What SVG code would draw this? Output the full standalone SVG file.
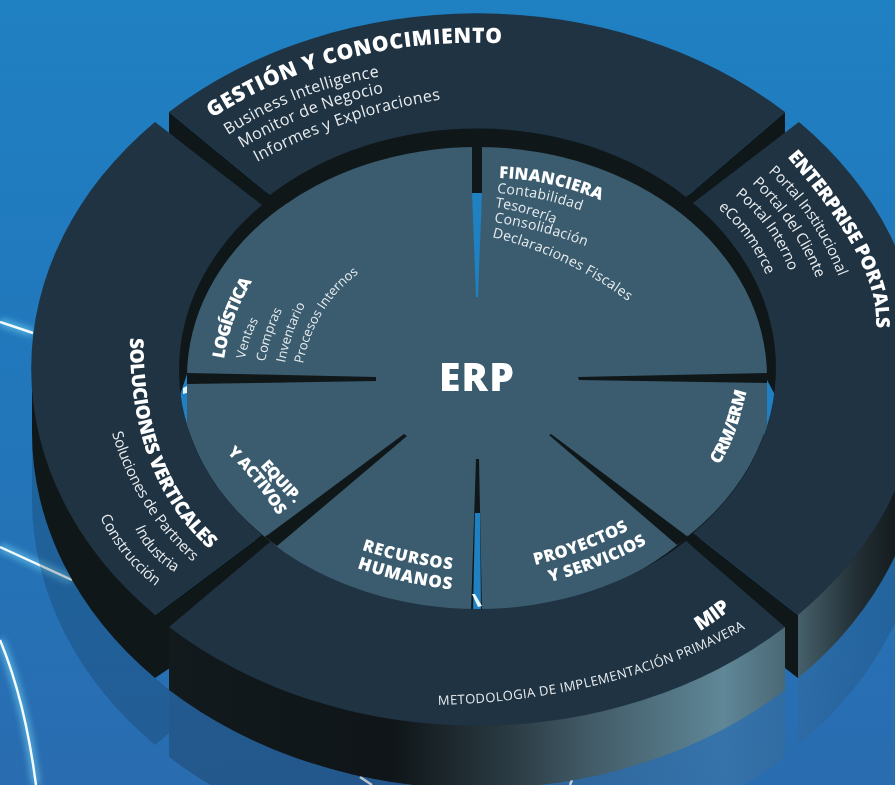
<svg xmlns="http://www.w3.org/2000/svg" width="895" height="785" viewBox="0 0 895 785">
<style>
.top{fill:#1f3342}
.wall{fill:#101719}
.disc{fill:#3a5c6e}
.t{font-family:"Open Sans","Noto Sans",sans-serif;fill:#fff;font-weight:800}
.s{font-family:"Open Sans","Noto Sans",sans-serif;fill:#e8ecef;font-weight:400}
.line{fill:none;stroke:#f4fbff;stroke-width:2.4}
.glow{fill:none;stroke:#6fd0f5;stroke-width:8;opacity:.6}
</style>
<defs>
<linearGradient id="bg" x1="0" y1="0" x2="0" y2="1"><stop offset="0" stop-color="#1f80c2"/><stop offset=".55" stop-color="#2276ba"/><stop offset="1" stop-color="#2a6cb0"/></linearGradient>
<linearGradient id="mipW" gradientUnits="userSpaceOnUse" x1="169" y1="0" x2="785" y2="0"><stop offset="0" stop-color="#121a1d"/><stop offset=".36" stop-color="#0f1518"/><stop offset=".55" stop-color="#2a3a42"/><stop offset=".68" stop-color="#415a66"/><stop offset=".9" stop-color="#5f8797"/><stop offset="1" stop-color="#4b6875"/></linearGradient>
<linearGradient id="entW" gradientUnits="userSpaceOnUse" x1="798" y1="0" x2="895" y2="0"><stop offset="0" stop-color="#46606b"/><stop offset=".6" stop-color="#222f35"/><stop offset="1" stop-color="#151c1f"/></linearGradient>
<filter id="blur" x="-20%" y="-20%" width="140%" height="140%"><feGaussianBlur stdDeviation="3"/></filter>
<path id="p1" d="M212 118Q338 38 493 43L555 45"/>
<path id="p2" d="M228 135Q298 90 377 77L409 72"/>
<path id="p3" d="M242 148Q310 108 382 93L411 87"/>
<path id="p4" d="M257 162Q345 115 438 100L475 94"/>
<path id="p5" d="M787 157Q875 257 876 318L877 348"/>
<path id="p6" d="M768 172Q813 212 838 275L848 300"/>
<path id="p7" d="M752 183Q792 221 815 275L824 297"/>
<path id="p8" d="M735 195Q771 224 788 268L795 286"/>
<path id="p9" d="M718 208Q746 232 763 268L770 282"/>
<path id="p10" d="M499 178Q555 180 605 202L625 211"/>
<path id="p11" d="M497 193Q542 196 585 212L602 218"/>
<path id="p12" d="M495 207Q522 211 550 222L561 226"/>
<path id="p13" d="M494 222Q545 230 590 248L608 255"/>
<path id="p14" d="M492 237Q570 256 633 305L658 325"/>
<path id="p15" d="M224 359Q230 320 250 285L258 271"/>
<path id="p16" d="M245 359Q248 340 256 325L262 314"/>
<path id="p17" d="M265 362Q270 335 280 315L285 305"/>
<path id="p18" d="M285 363Q291 333 304 307L309 297"/>
<path id="p19" d="M303 364Q315 305 359 273L377 260"/>
<path id="p20" d="M260 466Q276 484 294 503L302 511"/>
<path id="p21" d="M227 453Q256 480 278 516L286 530"/>
<path id="p22" d="M362 550Q405 564 456 570L476 572"/>
<path id="p23" d="M357 568Q404 584 455 590L475 592"/>
<path id="p24" d="M535 565Q588 552 632 528L650 518"/>
<path id="p25" d="M550 582Q604 568 648 543L666 533"/>
<path id="p26" d="M719 465Q735 440 743 405L747 390"/>
<path id="p27" d="M130 338Q129 473 205 545L235 574"/>
<path id="p28" d="M112 433Q134 509 193 562L217 583"/>
<path id="p29" d="M135 528Q148 558 177 573L189 579"/>
<path id="p30" d="M100 517Q120 560 157 587L172 598"/>
<path id="p31" d="M700 631Q715 622 729 611L741 602"/>
<path id="p32" d="M438 705Q617 700 748 627L800 598"/>
</defs>
<rect width="895" height="785" fill="url(#bg)"/>
<g id="background-streaks">
<g filter="url(#blur)"><path class="glow" d="M0 322L33 333"/><path class="glow" d="M0 547L72 580"/><path class="glow" d="M0 640Q25 700 36 785"/></g>
<path class="line" d="M0 322L33 333"/><path class="line" d="M0 547L72 580"/><path class="line" d="M0 640Q25 700 36 785"/><path class="line" d="M360 777L372 785"/><path class="line" d="M572 780L570 785"/>
</g>
<g id="reflections">
<path opacity=".24" fill="#12283f" d="M32 432L32 498A446 356.5 0 0 0 155 745L169 733L169 690L155 678L32 432Z"/>
<path opacity=".24" fill="url(#mipW)" d="M169 690L169 757A446 356.5 0 0 0 785 757L785 690A446 356.5 0 0 1 169 690Z"/>
<path opacity=".16" fill="url(#entW)" d="M785 668L798 678L798 745A446 356.5 0 0 0 924 498L924 432A446 356.5 0 0 1 798 678L785 668Z"/>
</g>
<g id="walls">
<path class="wall" d="M32 369L32 432A446 356.5 0 0 0 155 678L270 600L262 535L155 615Z"/>
<path fill="url(#entW)" d="M798 615L798 678A446 356.5 0 0 0 924 432L924 369Z"/>
<path class="wall" d="M693 533L798 615L798 678L785 668L686 600Z"/>
<path fill="url(#mipW)" d="M169 627L169 690A446 356.5 0 0 0 785 690L785 627Z"/>
<path class="wall" d="M169 112L270 195L270 216L169 133Z"/>
<path class="wall" d="M785 112L785 133L693 207L686 197Z"/>
<path class="wall" d="M255 528H280V562H255Z"/>
<path class="wall" d="M675 528H700V562H675Z"/>
</g>
<ellipse id="inner-wall" class="wall" cx="476.5" cy="368.5" rx="303" ry="243"/>
<path id="sliver-left" fill="#1f80c2" d="M187 374L180 395L183 412L189 432L195 425L195 374Z"/>
<path id="sliver-right" fill="#1f80c2" d="M766 378L775 395L772 420L764 436L760 420L760 378Z"/>
<path fill="#dff4fb" d="M183 388L187 386L187 393L183 394Z"/>
<ellipse id="disc" class="disc" cx="477" cy="377" rx="290" ry="230"/>
<path class="disc" d="M187 384L187 425A297 237 0 0 0 265 537L300 500Z"/>
<path class="disc" d="M767 384L767 425A297 237 0 0 1 688 536L650 500Z"/>
<path class="disc" d="M265 537A285 230 0 0 0 688 536L477 400Z"/>
<g id="dividers">
<path class="wall" d="M472 147L482 147L482 194L472 194Z"/>
<path fill="#1f80c2" d="M472 193L482 193L478 297L476 297Z"/>
<path class="wall" d="M187 373L187 384L376 381L376 377Z"/>
<path class="wall" d="M767 373L767 383L579 380L578 377Z"/>
<path class="wall" d="M404 434L407 436L277 546L265 537Z"/>
<path class="wall" d="M549 435L551 434L688 537L677 545Z"/>
<path class="wall" d="M476 459L479 459L482 612L471 612Z"/>
<path fill="#1f80c2" d="M475 513L480 513L481 612L473 612Z"/>
<path fill="#e8f7fc" d="M472 594L475 594L482 606L478 607Z"/>
</g>
<g id="node-gestion"><path class="top" d="M169 112A446 356.5 0 0 1 785 112L686 197A298.5 238.5 0 0 0 270 195Z"/>
<text class="t" font-size="21" letter-spacing=".7"><textPath href="#p1">GESTIÓN Y CONOCIMIENTO</textPath></text>
<text class="s" font-size="16" letter-spacing=".4"><textPath href="#p2">Business Intelligence</textPath></text>
<text class="s" font-size="16" letter-spacing=".3"><textPath href="#p3">Monitor de Negocio</textPath></text>
<text class="s" font-size="16" letter-spacing=".3"><textPath href="#p4">Informes y Exploraciones</textPath></text></g>
<g id="node-enterprise"><path class="top" d="M799 122A446 356.5 0 0 1 798 615L693 533A298.5 238.5 0 0 0 693 203Z"/>
<text class="t" font-size="19" letter-spacing="-.5"><textPath href="#p5">ENTERPRISE PORTALS</textPath></text>
<text class="s" font-size="15" letter-spacing="-.2"><textPath href="#p6">Portal Institucional</textPath></text>
<text class="s" font-size="15" letter-spacing="-.2"><textPath href="#p7">Portal del Cliente</textPath></text>
<text class="s" font-size="15" letter-spacing="-.2"><textPath href="#p8">Portal Interno</textPath></text>
<text class="s" font-size="15" letter-spacing="-.2"><textPath href="#p9">eCommerce</textPath></text></g>
<g id="node-soluciones"><path class="top" d="M155 122A446 356.5 0 0 0 155 615L262 535A298.5 238.5 0 0 1 262 205Z"/>
<text class="t" font-size="19" letter-spacing="-.4"><textPath href="#p27">SOLUCIONES VERTICALES</textPath></text>
<text class="s" font-size="15" letter-spacing="-.3"><textPath href="#p28">Soluciones de Partners</textPath></text>
<text class="s" font-size="15" letter-spacing="-.2"><textPath href="#p29">Industria</textPath></text>
<text class="s" font-size="15" letter-spacing="-.2"><textPath href="#p30">Construcción</textPath></text></g>
<g id="node-mip"><path class="top" d="M169 627A446 356.5 0 0 0 785 627L686 541A298.5 238.5 0 0 1 270 542Z"/>
<text class="t" font-size="20" letter-spacing="-.5"><textPath href="#p31">MIP</textPath></text>
<text class="s" font-size="13" letter-spacing=".4"><textPath href="#p32">METODOLOGIA DE IMPLEMENTACIÓN PRIMAVERA</textPath></text></g>
<g id="node-financiera"><text class="t" font-size="16.5" letter-spacing=".2"><textPath href="#p10">FINANCIERA</textPath></text>
<text class="s" font-size="14" letter-spacing=".3"><textPath href="#p11">Contabilidad</textPath></text>
<text class="s" font-size="14" letter-spacing=".1"><textPath href="#p12">Tesorería</textPath></text>
<text class="s" font-size="14" letter-spacing=".3"><textPath href="#p13">Consolidación</textPath></text>
<text class="s" font-size="14" letter-spacing=".3"><textPath href="#p14">Declaraciones Fiscales</textPath></text></g>
<g id="node-logistica"><text class="t" font-size="17" letter-spacing="-1"><textPath href="#p15">LOGÍSTICA</textPath></text>
<text class="s" font-size="13"><textPath href="#p16">Ventas</textPath></text>
<text class="s" font-size="13"><textPath href="#p17">Compras</textPath></text>
<text class="s" font-size="13"><textPath href="#p18">Inventario</textPath></text>
<text class="s" font-size="13"><textPath href="#p19">Procesos Internos</textPath></text></g>
<g id="node-equip"><text class="t" font-size="16" letter-spacing="-.5"><textPath href="#p20">EQUIP.</textPath></text>
<text class="t" font-size="16" letter-spacing="-.5"><textPath href="#p21">Y ACTIVOS</textPath></text></g>
<g id="node-rrhh"><text class="t" font-size="16.5" letter-spacing=".8"><textPath href="#p22">RECURSOS</textPath></text>
<text class="t" font-size="17" letter-spacing=".8"><textPath href="#p23">HUMANOS</textPath></text></g>
<g id="node-proyectos"><text class="t" font-size="16.5" letter-spacing=".3"><textPath href="#p24">PROYECTOS</textPath></text>
<text class="t" font-size="16.5" letter-spacing=".3"><textPath href="#p25">Y SERVICIOS</textPath></text></g>
<g id="node-crm"><text class="t" font-size="17" letter-spacing="-.8"><textPath href="#p26">CRM/ERM</textPath></text></g>
<g id="node-erp"><text class="t" font-size="39" letter-spacing="1.2" x="477" y="391" text-anchor="middle">ERP</text></g>
</svg>
